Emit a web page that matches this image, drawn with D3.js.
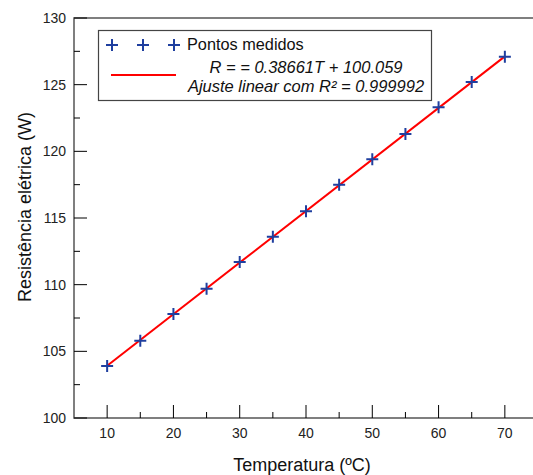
<!DOCTYPE html>
<meta charset="utf-8">
<style>
  body { margin: 0; background: #fff; }
  svg { font-family: "Liberation Sans", Arial, sans-serif; }
</style>
<svg width="533" height="475"></svg>
<script src="https://d3js.org/d3.v7.min.js"></script>
<script>

var temperatures = [10, 15, 20, 25, 30, 35, 40, 45, 50, 55, 60, 65, 70];
var resistances = [103.9, 105.8, 107.8, 109.7, 111.7, 113.6, 115.5, 117.5, 119.4, 121.3, 123.3, 125.2, 127.1];
var fitLine = [[10, 103.925], [70, 127.122]];
var xTicks = [10, 20, 30, 40, 50, 60, 70];
var yTicks = [100, 105, 110, 115, 120, 125, 130];
var legendLabels = ["Pontos medidos", "R = = 0.38661T + 100.059", "Ajuste linear com R\u00b2 = 0.999992"];

var svg = d3.select("svg");
var x = d3.scaleLinear().domain([5, 75]).range([74, 538]);
var y = d3.scaleLinear().domain([100, 130]).range([418, 18]);

var blue = "#1f3f9f";

// frame
svg.append("path")
    .attr("d", "M" + x(75) + "," + y(130) + "H" + x(5) + "V" + y(100) + "H" + x(75))
    .attr("fill", "none")
    .attr("stroke", "#555")
    .attr("stroke-width", 1.5);

// x ticks (inside)
var xMinor = d3.range(15, 75, 10);
svg.append("g").selectAll("line")
  .data(xTicks)
  .enter().append("line")
    .attr("x1", function(d) { return x(d); })
    .attr("x2", function(d) { return x(d); })
    .attr("y1", y(100))
    .attr("y2", y(100) - 13)
    .attr("stroke", "#000");
svg.append("g").selectAll("line")
  .data(xMinor)
  .enter().append("line")
    .attr("x1", function(d) { return x(d); })
    .attr("x2", function(d) { return x(d); })
    .attr("y1", y(100))
    .attr("y2", y(100) - 6)
    .attr("stroke", "#000");
svg.append("g").selectAll("text")
  .data(xTicks)
  .enter().append("text")
    .attr("x", function(d) { return x(d); })
    .attr("y", 438)
    .attr("text-anchor", "middle")
    .attr("font-size", 14)
    .attr("fill", "#222")
    .text(function(d) { return d; });

// y ticks (inside)
var yMinor = d3.range(102.5, 130, 5);
svg.append("g").selectAll("line")
  .data(yTicks)
  .enter().append("line")
    .attr("x1", x(5))
    .attr("x2", x(5) + 13)
    .attr("y1", function(d) { return y(d); })
    .attr("y2", function(d) { return y(d); })
    .attr("stroke", "#000");
svg.append("g").selectAll("line")
  .data(yMinor)
  .enter().append("line")
    .attr("x1", x(5))
    .attr("x2", x(5) + 6)
    .attr("y1", function(d) { return y(d); })
    .attr("y2", function(d) { return y(d); })
    .attr("stroke", "#000");
svg.append("g").selectAll("text")
  .data(yTicks)
  .enter().append("text")
    .attr("x", 66)
    .attr("y", function(d) { return y(d) + 5; })
    .attr("text-anchor", "end")
    .attr("font-size", 14)
    .attr("fill", "#222")
    .text(function(d) { return d; });

// axis titles
svg.append("text")
    .attr("x", 302)
    .attr("y", 471)
    .attr("text-anchor", "middle")
    .attr("font-size", 18)
    .attr("fill", "#111")
    .text("Temperatura (\u00baC)");
svg.append("text")
    .attr("transform", "translate(31,207) rotate(-90)")
    .attr("text-anchor", "middle")
    .attr("font-size", 18)
    .attr("fill", "#111")
    .text("Resist\u00eancia el\u00e9trica (W)");

// fit line
var line = d3.line()
    .x(function(d) { return x(d[0]); })
    .y(function(d) { return y(d[1]); });
svg.append("path")
    .datum(fitLine)
    .attr("d", line)
    .attr("fill", "none")
    .attr("stroke", "#ff0000")
    .attr("stroke-width", 2);

// measured points
function cross(g, cx, cy) {
  g.append("path")
      .attr("d", "M" + (cx - 6) + "," + cy + "h12M" + cx + "," + (cy - 6) + "v12")
      .attr("stroke", blue)
      .attr("stroke-width", 2);
}
var pts = svg.append("g");
temperatures.forEach(function(t, i) {
  cross(pts, x(t), y(resistances[i]));
});

// legend
var leg = svg.append("g");
leg.append("rect")
    .attr("x", 98.5)
    .attr("y", 30.5)
    .attr("width", 333)
    .attr("height", 70)
    .attr("fill", "#fff")
    .attr("stroke", "#444")
    .attr("stroke-width", 1.2);
[112, 143, 174].forEach(function(cx) { cross(leg, cx, 45); });
leg.append("text")
    .attr("x", 187)
    .attr("y", 50)
    .attr("font-size", 16.3)
    .attr("fill", "#111")
    .text(legendLabels[0]);
leg.append("line")
    .attr("x1", 111)
    .attr("x2", 176)
    .attr("y1", 75)
    .attr("y2", 75)
    .attr("stroke", "#ff0000")
    .attr("stroke-width", 2);
leg.append("text")
    .attr("x", 306)
    .attr("y", 73)
    .attr("text-anchor", "middle")
    .attr("font-size", 16.5)
    .attr("font-style", "italic")
    .attr("fill", "#111")
    .text(legendLabels[1]);
leg.append("text")
    .attr("x", 306)
    .attr("y", 92)
    .attr("text-anchor", "middle")
    .attr("font-size", 16.5)
    .attr("font-style", "italic")
    .attr("fill", "#111")
    .text(legendLabels[2]);

</script>
